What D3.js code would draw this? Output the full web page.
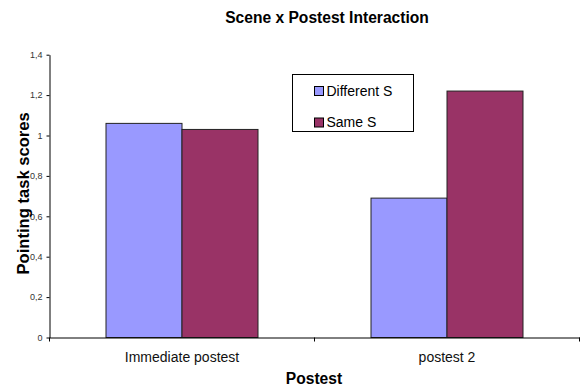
<!DOCTYPE html>
<html><head><meta charset="utf-8">
<script src="https://cdn.jsdelivr.net/npm/d3@7"></script>
<style>body{margin:0;background:#fff}svg{display:block}svg text{font-family:"Liberation Sans",Arial,sans-serif}</style>
</head><body><svg id="c" width="580" height="386"></svg>
<script>
const categories = ["Immediate postest", "postest 2"];
const seriesNames = ["Different S", "Same S"];
const differentS = [1.06, 0.69];
const sameS = [1.03, 1.22];
const yTicks = [0, 0.2, 0.4, 0.6, 0.8, 1, 1.2, 1.4];
const colors = ["#9999FF", "#993366"];

(function () {
const FF = "Liberation Sans, Arial, sans-serif";
const svg = d3.select("#c");
const mLeft = 49.5, mRight = 579.5, mTop = 54.7, mBottom = 337.5;
const x = d3.scaleBand().domain(categories).range([mLeft, mRight]).paddingInner(0).paddingOuter(0);
const y = d3.scaleLinear().domain([0, 1.4]).range([mBottom, mTop]);
const fmt = d => String(d).replace(".", ",");

const series = [differentS, sameS];
const bw = x.bandwidth();
const barW = bw * 76 / 265;
const groupW = barW * 2;
const inner = d3.scaleBand().domain([0, 1]).range([0, groupW]).padding(0);

series.forEach((vals, si) => {
  svg.append("g").selectAll("rect").data(vals).join("rect")
    .attr("x", (d, i) => x(categories[i]) + (bw - groupW) / 2 + inner(si))
    .attr("y", d => y(d))
    .attr("width", inner.bandwidth())
    .attr("height", d => y(0) - y(d))
    .attr("fill", colors[si])
    .attr("stroke", "#222")
    .attr("stroke-width", 1);
});

const yAxis = svg.append("g").attr("transform", `translate(${mLeft},0)`)
  .call(d3.axisLeft(y).tickValues(yTicks).tickFormat(fmt).tickSize(3).tickSizeOuter(0).tickPadding(4));
yAxis.select(".domain").attr("stroke", "#000");
yAxis.selectAll(".tick line").attr("stroke", "#000");
yAxis.selectAll("text").attr("font-size", 9).attr("fill", "#333").attr("font-family", FF);

const xAxis = svg.append("g").attr("transform", `translate(0,${mBottom})`)
  .call(d3.axisBottom(x).tickSize(0).tickPadding(15));
xAxis.select(".domain").attr("stroke", "#000");
xAxis.selectAll("text").attr("font-size", 14).attr("fill", "#111").attr("font-family", FF);
// boundary ticks between categories
const bounds = [mLeft, x(categories[1]), mRight];
svg.append("g").selectAll("line").data(bounds).join("line")
  .attr("x1", d => d).attr("x2", d => d)
  .attr("y1", mBottom).attr("y2", mBottom + 4).attr("stroke", "#000");

svg.append("text").attr("x", 327).attr("y", 23.3).attr("text-anchor", "middle")
  .attr("font-family", FF).attr("font-size", 15.6).attr("font-weight", "bold").text("Scene x Postest Interaction");
svg.append("text").attr("x", 314).attr("y", 384).attr("text-anchor", "middle")
  .attr("font-family", FF).attr("font-size", 15.6).attr("font-weight", "bold").text("Postest");
svg.append("text").attr("transform", "translate(29,193.4) rotate(-90)").attr("text-anchor", "middle")
  .attr("font-family", FF).attr("font-size", 16.6).attr("font-weight", "bold").text("Pointing task scores");

const lg = svg.append("g");
lg.append("rect").attr("x", 292.5).attr("y", 74.5).attr("width", 121).attr("height", 57)
  .attr("fill", "#fff").attr("stroke", "#000");
seriesNames.forEach((n, i) => {
  const yy = 86.5 + i * 31.5;
  lg.append("rect").attr("x", 314.5).attr("y", yy).attr("width", 9).attr("height", 9)
    .attr("fill", colors[i]).attr("stroke", "#000");
  lg.append("text").attr("x", 326.5).attr("y", yy + 9).attr("font-family", FF).attr("font-size", 14).text(n);
});
})();
</script></body></html>
